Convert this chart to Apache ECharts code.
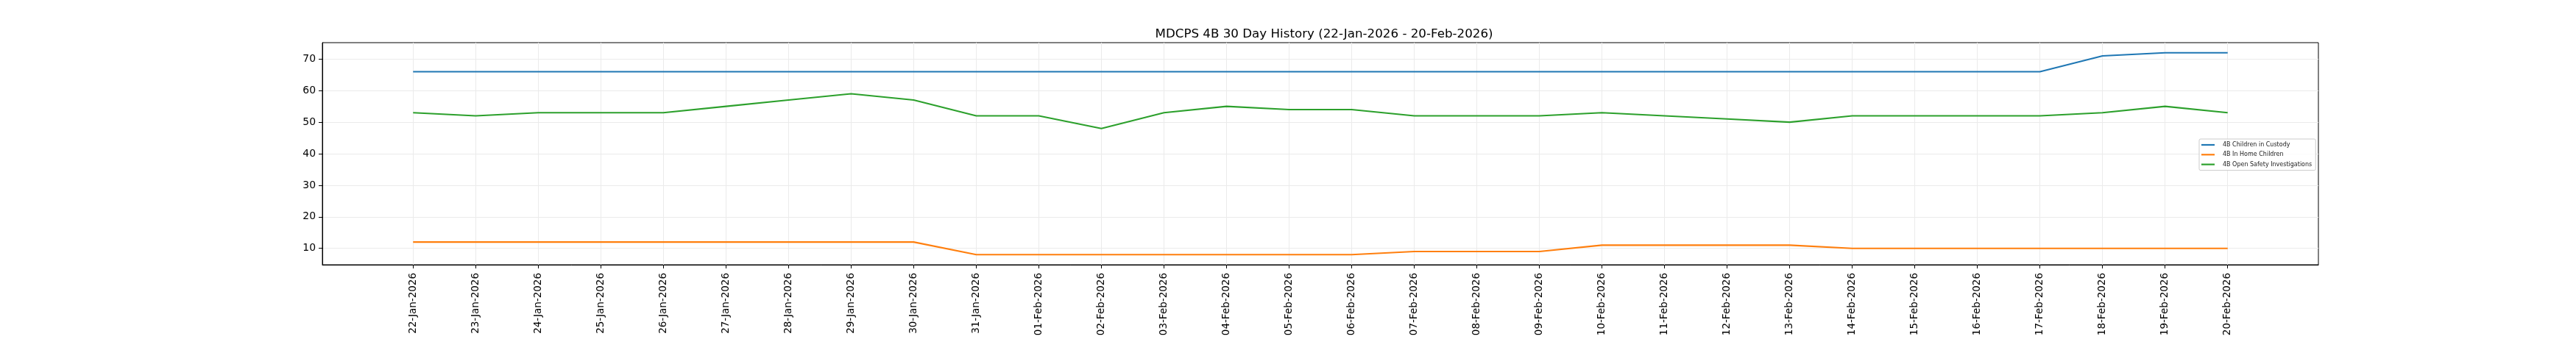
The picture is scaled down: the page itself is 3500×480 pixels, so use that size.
<!DOCTYPE html>
<html>
<head>
<meta charset="utf-8">
<script src="https://cdn.jsdelivr.net/npm/echarts@6/dist/echarts.min.js"></script>
<style>
html,body{margin:0;padding:0;background:#fff;}
#c{width:3500px;height:480px;}
</style>
</head>
<body>
<div id="c"></div>
<script>
const dates = ['22-Jan-2026','23-Jan-2026','24-Jan-2026','25-Jan-2026','26-Jan-2026','27-Jan-2026','28-Jan-2026','29-Jan-2026','30-Jan-2026','31-Jan-2026',
  '01-Feb-2026','02-Feb-2026','03-Feb-2026','04-Feb-2026','05-Feb-2026','06-Feb-2026','07-Feb-2026','08-Feb-2026','09-Feb-2026','10-Feb-2026',
  '11-Feb-2026','12-Feb-2026','13-Feb-2026','14-Feb-2026','15-Feb-2026','16-Feb-2026','17-Feb-2026','18-Feb-2026','19-Feb-2026','20-Feb-2026'];
const custody = [66,66,66,66,66,66,66,66,66,66, 66,66,66,66,66,66,66,66,66,66, 66,66,66,66,66,66,66,71,72,72];
const inHome  = [12,12,12,12,12,12,12,12,12,8, 8,8,8,8,8,8,9,9,9,11, 11,11,11,10,10,10,10,10,10,10];
const safety  = [53,52,53,53,53,55,57,59,57,52, 52,48,53,55,54,54,52,52,52,53, 52,51,50,52,52,52,52,53,55,53];
const yTicks = [10,20,30,40,50,60,70];
const seriesNames = ['4B Children in Custody','4B In Home Children','4B Open Safety Investigations'];
const colors = ['#1f77b4','#ff7f0e','#2ca02c'];

const font = 'DejaVu Sans';
const xIdx = dates.map((d,i)=>i);
const pad = 0.05*(dates.length-1);
const allVals = custody.concat(inHome, safety);
const vMin = Math.min(...allVals), vMax = Math.max(...allVals);
const vPad = 0.05*(vMax-vMin);

const chart = echarts.init(document.getElementById('c'), null, {renderer:'canvas'});
const mk = (arr)=>arr.map((v,i)=>[i,v]);
chart.setOption({
  animation:false,
  backgroundColor:'#fff',
  title:{
    text:'MDCPS 4B 30 Day History (22-Jan-2026 - 20-Feb-2026)',
    left:1794, top:33, textAlign:'center',
    textStyle:{fontFamily:font, fontSize:16.7, fontWeight:'normal', color:'#000'}
  },
  legend:{
    orient:'vertical', left:2988, top:189,
    data:seriesNames,
    icon:'rect', itemWidth:18, itemHeight:2.2, itemGap:3.3,
    padding:[3,5,3,3],
    borderColor:'#cccccc', borderWidth:1, borderRadius:2,
    backgroundColor:'rgba(255,255,255,0.8)',
    textStyle:{fontFamily:font, fontSize:8, color:'#222', lineHeight:10, padding:[0,0,0,6]}
  },
  grid:{left:438, right:350, top:58, bottom:120, show:true, borderColor:'#000', borderWidth:1, backgroundColor:'transparent'},
  xAxis:{
    type:'value', min:-pad, max:dates.length-1+pad,
    axisLine:{show:true, onZero:false, lineStyle:{color:'#000', width:1}},
    axisTick:{show:true, customValues:xIdx, length:5, lineStyle:{color:'#000'}},
    axisLabel:{customValues:xIdx, rotate:90, margin:11, formatter:(v)=>dates[Math.round(v)],
      fontFamily:font, fontSize:13.5, color:'#000'},
    splitLine:{show:true, lineStyle:{color:'#ebebeb', width:1}}
  },
  yAxis:{
    type:'value', min:vMin-vPad, max:vMax+vPad,
    axisLine:{show:true, onZero:false, lineStyle:{color:'#000', width:1}},
    axisTick:{show:true, customValues:yTicks, length:5, lineStyle:{color:'#000'}},
    axisLabel:{customValues:yTicks, margin:9, fontFamily:font, fontSize:13.9, color:'#000'},
    splitLine:{show:true, lineStyle:{color:'#ebebeb', width:1}}
  },
  series:[custody,inHome,safety].map((arr,k)=>({
    name:seriesNames[k], type:'line', data:mk(arr), showSymbol:false, symbol:'none',
    lineStyle:{color:colors[k], width:2.1}, itemStyle:{color:colors[k]}
  }))
});
</script>
</body>
</html>
